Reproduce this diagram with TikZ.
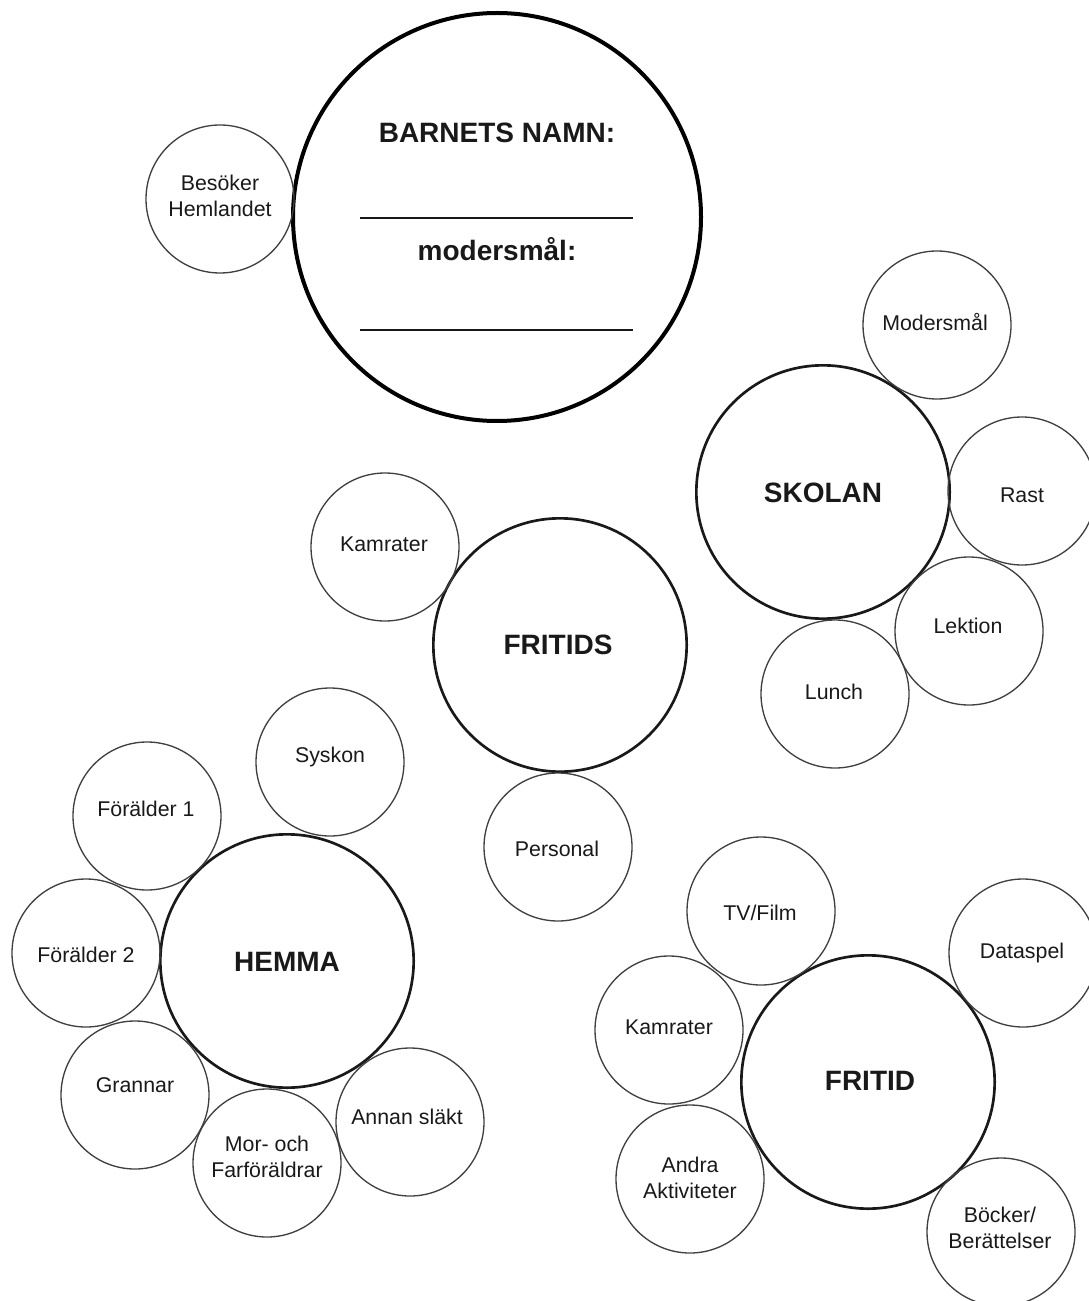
\documentclass[tikz,border=0pt]{standalone}
\usepackage{fontspec}
\setmainfont{Liberation Sans}
\begin{document}
\begin{tikzpicture}[x=0.75pt,y=-0.75pt,
  sm/.style={circle, draw=black!75, line width=1pt, minimum size=111pt, inner sep=0pt},
  md/.style={circle, draw=black!90, line width=2pt, minimum size=190pt, inner sep=0pt},
  bg/.style={circle, draw=black, line width=3pt, minimum size=306pt, inner sep=0pt},
  lbl/.style={font=\fontsize{16}{20}\selectfont, align=center, inner sep=0pt, text=black!90},
  ttl/.style={font=\bfseries\fontsize{21}{25}\selectfont, inner sep=0pt, text=black!90},
  rule/.style={line width=1.4pt, black!90}]
\useasboundingbox (0,0) rectangle (1088,1301);

% main circle
\node[bg] (main) at (497,217) {};
\node[ttl] (tname) at (497,133) {BARNETS NAMN:};
\node[ttl] (tmoder) at (497,249) {modersmål:};
\coordinate (l1a) at (360,218); \coordinate (l1b) at (633,218);
\coordinate (l2a) at (360,330); \coordinate (l2b) at (633,330);
\draw[rule] (l1a) -- (l1b);
\draw[rule] (l2a) -- (l2b);

\node[sm] (besok) at (220,199) {};
\node[lbl] (tbesok) at (220,196) {Besöker\\Hemlandet};

% SKOLAN
\node[md] (skolan) at (823,492) {};
\node[ttl] (tskolan) at (823,493) {SKOLAN};
\node[sm] (moders) at (937,325) {};
\node[lbl] (tmoders) at (935,322) {Modersmål};
\node[sm] (rast) at (1022,491) {};
\node[lbl] (trast) at (1022,495) {Rast};
\node[sm] (lektion) at (969,631) {};
\node[lbl] (tlektion) at (968,626) {Lektion};
\node[sm] (lunch) at (835,694) {};
\node[lbl] (tlunch) at (834,692) {Lunch};

% FRITIDS
\node[md] (fritids) at (560,645) {};
\node[ttl] (tfritids) at (558,645) {FRITIDS};
\node[sm] (kam1) at (385,547) {};
\node[lbl] (tkam1) at (384,544) {Kamrater};
\node[sm] (pers) at (558,847) {};
\node[lbl] (tpers) at (557,849) {Personal};

% HEMMA
\node[md] (hemma) at (287,961) {};
\node[ttl] (themma) at (287,962) {HEMMA};
\node[sm] (sysk) at (330,762) {};
\node[lbl] (tsysk) at (330,757) {Syskon};
\node[sm] (f1) at (147,816) {};
\node[lbl] (tf1) at (146,809) {Förälder 1};
\node[sm] (f2) at (86,953) {};
\node[lbl] (tf2) at (86,955) {Förälder 2};
\node[sm] (grann) at (135,1095) {};
\node[lbl] (tgrann) at (135,1085) {Grannar};
\node[sm] (morfar) at (267,1163) {};
\node[lbl] (tmorfar) at (267,1157) {Mor- och\\Farföräldrar};
\node[sm] (annan) at (410,1122) {};
\node[lbl] (tannan) at (407,1117) {Annan släkt};

% FRITID
\node[md] (fritid) at (868,1082) {};
\node[ttl] (tfritid) at (870,1081) {FRITID};
\node[sm] (tv) at (761,911) {};
\node[lbl] (ttv) at (760,913) {TV/Film};
\node[sm] (data) at (1023,953) {};
\node[lbl] (tdata) at (1022,953) {Dataspel};
\node[sm] (kam2) at (669,1030) {};
\node[lbl] (tkam2) at (669,1027) {Kamrater};
\node[sm] (andra) at (690,1179) {};
\node[lbl] (tandra) at (690,1178) {Andra\\Aktiviteter};
\node[sm] (bock) at (1001,1232) {};
\node[lbl] (tbock) at (1000,1228) {Böcker/\\Berättelser};
\end{tikzpicture}
\end{document}
